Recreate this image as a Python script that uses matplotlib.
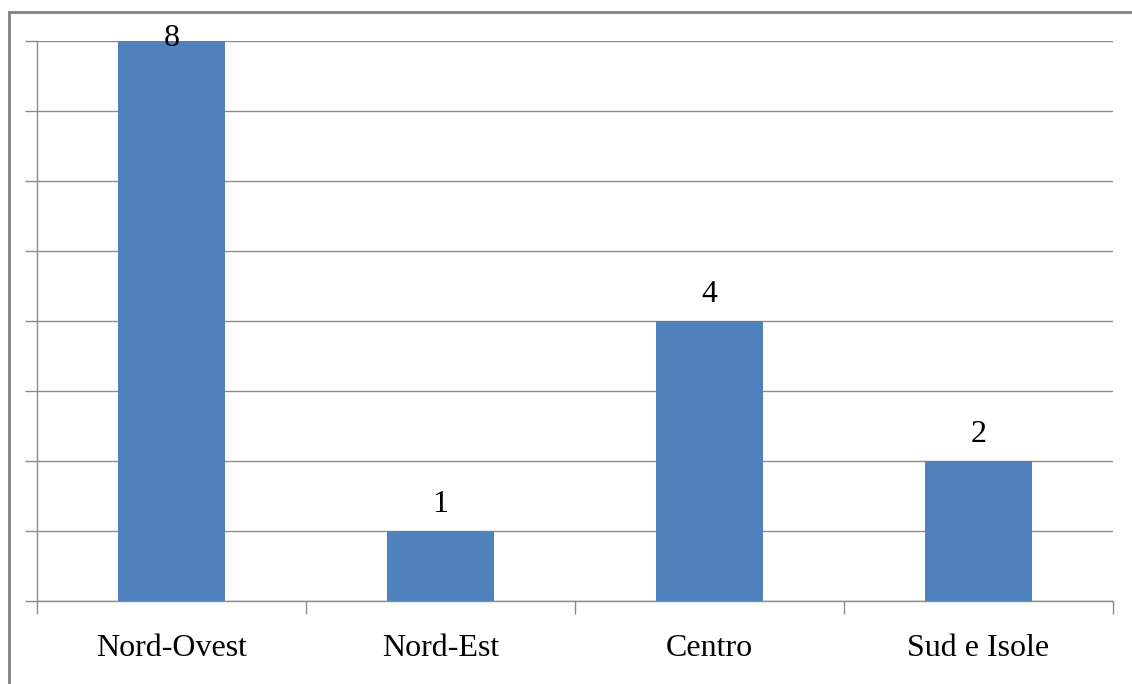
import matplotlib.pyplot as plt
from matplotlib.patches import Rectangle

# dati
categorie = ['Nord-Ovest', 'Nord-Est', 'Centro', 'Sud e Isole']
valori = [8, 1, 4, 2]

plt.rcParams['font.family'] = ['Liberation Serif', 'DejaVu Serif']

fig = plt.figure(figsize=(11.32, 6.84), dpi=100)
ax = fig.add_axes([37 / 1132, 1 - 601 / 684, (1113 - 37) / 1132, (601 - 41) / 684])

x = range(len(categorie))
ax.bar(x, valori, width=0.4, color='#4F81BD', zorder=3)

ax.set_xlim(-0.5, len(categorie) - 0.5)
ax.set_ylim(0, 8)

# griglia orizzontale
ax.set_yticks(range(0, 9))
ax.set_yticklabels([])
ax.grid(axis='y', color='#8c8c8c', linewidth=1, zorder=0)
ax.tick_params(axis='y', length=9, color='#8c8c8c', width=1)

# tick tra le categorie
ax.set_xticks([i - 0.5 for i in range(len(categorie) + 1)])
ax.set_xticklabels([])
ax.set_xticks(list(x), minor=True)
ax.set_xticklabels(categorie, minor=True, fontsize=23)
ax.tick_params(axis='x', which='major', length=9, color='#8c8c8c', width=1)
ax.tick_params(axis='x', which='minor', length=0, pad=24)

for s in ['top', 'right']:
    ax.spines[s].set_visible(False)
for s in ['left', 'bottom']:
    ax.spines[s].set_color('#8c8c8c')
    ax.spines[s].set_linewidth(1)

# etichette dei valori
for i, v in enumerate(valori):
    off = -3.6 if v == max(valori) else 13.7
    ax.annotate(str(v), (i, v), xytext=(0, off), textcoords='offset points',
                ha='center', va='baseline', fontsize=23, zorder=4)

# bordo esterno
fig.patches.append(Rectangle((9 / 1132, -0.05), 1.2, 1 - 12 / 684 + 0.05,
                             transform=fig.transFigure, fill=False,
                             edgecolor='#808080', linewidth=2))

fig.savefig('out.png', dpi=100)
